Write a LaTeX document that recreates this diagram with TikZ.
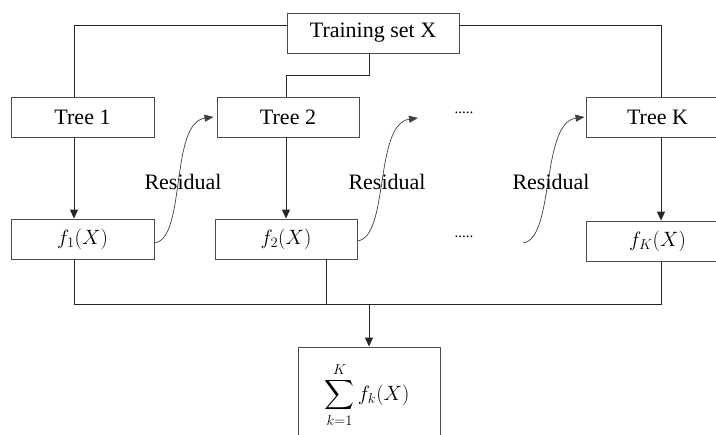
\documentclass[tikz,border=0pt]{standalone}
\usepackage{amsmath}
\usepackage{fontspec}
\setmainfont{Liberation Serif}
\usetikzlibrary{arrows.meta}
\begin{document}
\begin{tikzpicture}[x=1pt,y=-1pt,
  box/.style={draw=black!70,line width=0.9pt,rectangle,minimum width=142pt,minimum height=40pt,inner sep=0pt,font=\fontsize{22}{26}\selectfont},
  wire/.style={draw=black!85,line width=1pt},
  flow/.style={wire,-{Triangle[length=9pt,width=8pt]}},
  resid/.style={draw=black!75,line width=0.7pt,-{Triangle[length=9pt,width=7pt]}},
  lbl/.style={font=\fontsize{22}{26}\selectfont,inner sep=0pt},
  gap/.style={font=\fontsize{15}{18}\selectfont,inner sep=0pt}]
\useasboundingbox (0,0) rectangle (716,435);
\clip (0,0) rectangle (716,435);

% column positions of the vertical wires
\coordinate (xa) at (74,0);
\coordinate (x2) at (286,0);
\coordinate (xf2) at (326,0);
\coordinate (xm) at (369,0);
\coordinate (xk) at (661,0);
\coordinate (ya) at (0,26);
\coordinate (yb) at (0,76);
\coordinate (ybus) at (0,305);

% boxes
\node[box,minimum width=172pt] (train) at (373,33) {Training set X};
\node[box,minimum width=143pt] (t1) at (82.5,117) {Tree 1};
\node[box] (t2) at (288,117) {Tree 2};
\node[box,minimum width=143pt] (tK) at (657.5,117) {Tree K};
\node[box,minimum width=143pt] (f1) at (82.5,239) {$f_1(X)$};
\node[box] (f2) at (286,239) {$f_2(X)$};
\node[box,minimum width=143pt] (fK) at (657.5,241) {$f_K(X)$};
\node[box,minimum width=142pt,minimum height=100pt] (sum) at (369,397) {};
\node[font=\fontsize{22}{26}\selectfont,inner sep=0pt] (sumtxt) at (367,395)
  {$\displaystyle\sum_{k=1}^{K} f_k(X)$};

% training set feeding the trees
\draw[wire] (train.west |- ya) -| (t1.north -| xa);
\draw[wire] (train.east |- ya) -| (tK.north -| xk);
\draw[wire] (train.south -| xm) -- (xm |- yb) -| (t2.north -| x2);

% tree outputs
\draw[flow] (t1.south -| xa) -- (f1.north -| xa);
\draw[flow] (t2.south -| x2) -- (f2.north -| x2);
\draw[flow] (tK.south -| xk) -- (fK.north -| xk);

% summation bus
\draw[wire] (f1.south -| xa) -- (xa |- ybus) -- (xk |- ybus) -- (fK.south -| xk);
\draw[wire] (f2.south -| xf2) -- (xf2 |- ybus);
\draw[flow] (xm |- ybus) -- (sum.north -| xm);

% residual hand-offs
\coordinate (r2) at (418,118);
\coordinate (s3) at (523,243);
\draw[resid] ([yshift=-4pt]f1.east) .. controls +(32,-4) and +(-44,6) .. ([xshift=-3pt]t2.west);
\draw[resid] ([yshift=-2pt]f2.east) .. controls +(32,-4) and +(-44,6) .. (r2);
\draw[resid] (s3) .. controls +(32,-4) and +(-44,6) .. ([xshift=-1pt]tK.west);

\node[lbl] (res1) at (183,182) {Residual};
\node[lbl] (res2) at (387,182) {Residual};
\node[lbl] (res3) at (551,182) {Residual};

\node[gap] (d1) at (464,113) {.....};
\node[gap] (d2) at (464,237) {.....};
\end{tikzpicture}
\end{document}
